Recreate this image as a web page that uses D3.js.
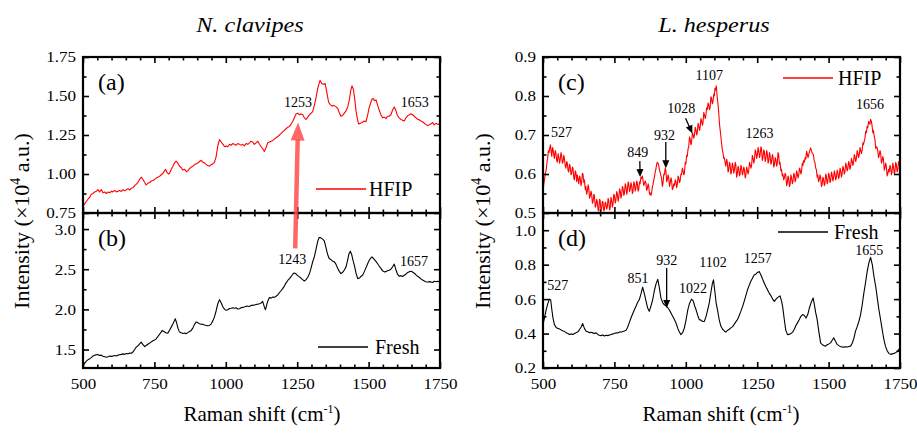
<!DOCTYPE html>
<html>
<head>
<meta charset="utf-8">
<script src="https://cdn.jsdelivr.net/npm/d3@7"></script>
<style>
body { margin: 0; background: #fff; }
</style>
</head>
<body>
<svg id="chart" width="917" height="434"></svg>
<script>
/* data: Raman shift (cm-1) vs intensity (x10^4 a.u.) */
var hfipClavipes = [[500,.79],[506,.81],[512,.825],[518,.84],[523,.85],[529,.87],[535,.875],[541,.885],[547,.89],[552,.9],[558,.885],[564,.9],[570,.88],[576,.885],[582,.875],[588,.885],[594,.88],[600,.89],[605,.885],[611,.895],[617,.885],[622,.89],[628,.895],[634,.888],[640,.9],[646,.892],[652,.9],[658,.905],[664,.898],[670,.91],[675,.912],[681,.925],[687,.935],[692,.945],[698,.965],[704,.98],[710,.965],[716,.945],[721,.93],[727,.94],[733,.945],[739,.955],[745,.958],[751,.965],[757,.975],[763,.98],[768,.985],[774,.995],[780,1.005],[785,1.02],[789,1.03],[794,1.01],[799,1.0],[803,1.005],[809,1.03],[815,1.05],[820,1.07],[826,1.082],[832,1.07],[838,1.05],[844,1.04],[850,1.025],[856,1.03],[862,1.015],[867,1.02],[873,1.035],[879,1.045],[885,1.05],[890,1.06],[896,1.065],[902,1.07],[908,1.08],[914,1.088],[920,1.075],[926,1.07],[932,1.06],[937,1.055],[943,1.05],[949,1.06],[955,1.065],[960,1.075],[966,1.11],[972,1.18],[978,1.22],[984,1.205],[990,1.19],[996,1.175],[1001,1.18],[1007,1.175],[1013,1.19],[1019,1.185],[1024,1.195],[1030,1.19],[1036,1.185],[1042,1.195],[1048,1.19],[1053,1.185],[1059,1.19],[1065,1.18],[1071,1.195],[1077,1.19],[1083,1.2],[1088,1.21],[1094,1.205],[1100,1.19],[1106,1.2],[1112,1.21],[1118,1.19],[1124,1.175],[1130,1.16],[1135,1.145],[1141,1.17],[1147,1.2],[1153,1.205],[1159,1.21],[1165,1.215],[1171,1.225],[1176,1.232],[1182,1.24],[1188,1.25],[1194,1.26],[1199,1.27],[1205,1.28],[1211,1.29],[1217,1.3],[1223,1.305],[1229,1.32],[1235,1.34],[1240,1.36],[1246,1.385],[1252,1.39],[1258,1.38],[1263,1.385],[1269,1.382],[1275,1.36],[1281,1.35],[1287,1.365],[1293,1.38],[1299,1.39],[1304,1.4],[1310,1.44],[1316,1.49],[1322,1.55],[1330,1.6],[1336,1.58],[1342,1.575],[1348,1.58],[1354,1.52],[1360,1.46],[1366,1.445],[1372,1.435],[1378,1.44],[1386,1.43],[1392,1.42],[1398,1.39],[1403,1.37],[1409,1.375],[1415,1.39],[1421,1.405],[1427,1.43],[1433,1.48],[1438,1.54],[1442,1.565],[1447,1.54],[1452,1.47],[1456,1.405],[1461,1.35],[1465,1.32],[1471,1.325],[1477,1.33],[1485,1.34],[1491,1.335],[1497,1.38],[1502,1.425],[1508,1.46],[1512,1.48],[1516,1.483],[1521,1.47],[1526,1.475],[1531,1.445],[1537,1.41],[1543,1.38],[1549,1.36],[1555,1.365],[1561,1.355],[1566,1.37],[1572,1.37],[1578,1.38],[1584,1.41],[1590,1.43],[1595,1.41],[1601,1.375],[1607,1.36],[1613,1.35],[1619,1.345],[1625,1.34],[1631,1.36],[1637,1.375],[1643,1.38],[1648,1.386],[1654,1.38],[1660,1.37],[1666,1.36],[1672,1.35],[1677,1.348],[1683,1.34],[1689,1.335],[1695,1.325],[1700,1.318],[1706,1.31],[1712,1.315],[1718,1.32],[1724,1.33],[1730,1.315],[1736,1.325],[1742,1.318],[1750,1.32]];

var freshClavipes = [[500,1.3],[506,1.33],[512,1.355],[518,1.375],[523,1.383],[529,1.4],[535,1.42],[541,1.43],[547,1.435],[552,1.438],[558,1.425],[564,1.43],[570,1.415],[576,1.41],[582,1.404],[588,1.41],[594,1.42],[600,1.415],[605,1.42],[611,1.425],[617,1.42],[622,1.43],[628,1.435],[634,1.44],[640,1.446],[646,1.44],[652,1.45],[658,1.448],[664,1.455],[669,1.454],[675,1.47],[681,1.5],[686,1.529],[692,1.545],[698,1.57],[704,1.592],[710,1.56],[716,1.537],[721,1.55],[727,1.565],[733,1.579],[739,1.595],[745,1.61],[751,1.62],[756,1.633],[762,1.66],[768,1.69],[774,1.72],[777,1.738],[783,1.725],[790,1.71],[797,1.704],[803,1.74],[809,1.779],[815,1.82],[820,1.86],[823,1.883],[828,1.83],[833,1.76],[838,1.717],[844,1.71],[850,1.7],[856,1.705],[861,1.696],[867,1.71],[873,1.725],[879,1.738],[885,1.77],[890,1.81],[896,1.842],[902,1.835],[908,1.82],[914,1.815],[920,1.813],[926,1.805],[932,1.8],[937,1.795],[943,1.8],[949,1.82],[955,1.86],[960,1.904],[966,1.98],[972,2.07],[978,2.121],[984,2.08],[990,2.03],[996,2.0],[1001,1.988],[1007,1.995],[1013,2.01],[1019,2.015],[1024,2.021],[1030,2.015],[1036,2.02],[1042,2.005],[1048,2.008],[1053,2.02],[1059,2.025],[1065,2.03],[1071,2.038],[1077,2.04],[1083,2.035],[1088,2.05],[1094,2.05],[1100,2.055],[1106,2.06],[1112,2.065],[1118,2.071],[1124,2.08],[1129,2.1],[1135,2.03],[1139,1.996],[1145,2.08],[1150,2.13],[1153,2.146],[1159,2.14],[1165,2.155],[1171,2.15],[1176,2.163],[1182,2.18],[1188,2.21],[1194,2.235],[1199,2.258],[1205,2.29],[1211,2.33],[1217,2.36],[1223,2.383],[1229,2.41],[1235,2.44],[1240,2.454],[1246,2.44],[1252,2.42],[1258,2.404],[1263,2.39],[1269,2.37],[1275,2.354],[1281,2.37],[1287,2.4],[1293,2.446],[1299,2.52],[1304,2.59],[1310,2.654],[1316,2.75],[1322,2.85],[1327,2.896],[1333,2.89],[1339,2.875],[1345,2.854],[1350,2.78],[1356,2.69],[1362,2.633],[1368,2.62],[1374,2.6],[1380,2.592],[1386,2.56],[1392,2.51],[1398,2.47],[1403,2.446],[1409,2.46],[1415,2.49],[1421,2.529],[1427,2.62],[1431,2.69],[1436,2.725],[1441,2.68],[1446,2.6],[1450,2.55],[1456,2.45],[1462,2.383],[1468,2.39],[1473,2.41],[1479,2.425],[1485,2.47],[1491,2.52],[1497,2.571],[1502,2.61],[1508,2.64],[1512,2.654],[1518,2.63],[1525,2.6],[1531,2.571],[1537,2.54],[1543,2.51],[1549,2.48],[1555,2.467],[1561,2.47],[1566,2.48],[1572,2.488],[1578,2.5],[1584,2.53],[1590,2.563],[1595,2.5],[1601,2.44],[1607,2.413],[1613,2.42],[1619,2.41],[1625,2.425],[1631,2.44],[1637,2.46],[1643,2.47],[1648,2.475],[1654,2.465],[1660,2.45],[1666,2.43],[1671,2.413],[1677,2.4],[1683,2.38],[1689,2.365],[1695,2.354],[1700,2.345],[1706,2.34],[1712,2.345],[1718,2.342],[1724,2.335],[1730,2.35],[1736,2.345],[1742,2.35],[1750,2.345]];

var hfipHesperus = [[500,.555],[503,.575],[505,.585],[508,.6],[511,.61],[514,.63],[516,.64],[519,.66],[521,.655],[524,.668],[526,.675],[529,.655],[531,.645],[533,.668],[535,.665],[538,.648],[540,.64],[543,.66],[545,.655],[548,.635],[550,.63],[553,.652],[555,.645],[558,.628],[560,.635],[563,.655],[565,.65],[568,.628],[570,.63],[573,.648],[575,.64],[578,.62],[580,.615],[583,.632],[585,.628],[588,.608],[590,.605],[593,.625],[595,.62],[598,.598],[600,.6],[603,.618],[605,.615],[608,.59],[610,.585],[613,.608],[615,.605],[618,.58],[620,.598],[623,.585],[625,.575],[628,.595],[630,.59],[633,.57],[635,.578],[638,.602],[640,.6],[643,.578],[645,.585],[648,.56],[650,.568],[653,.548],[655,.555],[658,.572],[660,.565],[663,.538],[665,.542],[668,.556],[670,.55],[673,.525],[675,.528],[678,.548],[680,.545],[683,.515],[685,.518],[688,.535],[690,.53],[693,.508],[695,.505],[698,.535],[700,.532],[703,.506],[705,.51],[708,.53],[710,.528],[713,.505],[715,.508],[718,.528],[720,.525],[723,.51],[725,.515],[728,.538],[730,.532],[733,.508],[735,.512],[738,.54],[740,.535],[743,.515],[745,.522],[748,.548],[750,.545],[753,.525],[755,.532],[758,.555],[760,.55],[763,.53],[765,.538],[768,.562],[770,.558],[773,.538],[775,.545],[778,.568],[780,.565],[783,.545],[785,.55],[788,.575],[790,.57],[793,.548],[795,.555],[798,.58],[800,.575],[803,.555],[805,.56],[808,.578],[810,.572],[813,.55],[815,.555],[818,.58],[820,.576],[823,.556],[825,.562],[828,.582],[830,.578],[833,.556],[835,.56],[838,.58],[840,.575],[843,.592],[845,.588],[848,.595],[850,.585],[853,.57],[855,.575],[858,.582],[860,.578],[863,.558],[865,.562],[868,.575],[870,.57],[873,.548],[875,.552],[878,.545],[880,.55],[883,.568],[885,.572],[888,.585],[890,.592],[893,.605],[895,.612],[898,.625],[900,.63],[903,.628],[905,.622],[908,.61],[910,.605],[913,.595],[915,.59],[918,.568],[920,.575],[923,.6],[925,.598],[928,.615],[930,.61],[933,.58],[935,.585],[938,.598],[940,.592],[943,.568],[945,.575],[948,.59],[950,.585],[953,.56],[955,.563],[958,.575],[960,.57],[963,.585],[965,.582],[968,.565],[970,.572],[973,.595],[975,.592],[978,.578],[980,.582],[983,.6],[985,.598],[988,.615],[990,.61],[993,.598],[995,.602],[998,.63],[1000,.625],[1003,.648],[1005,.645],[1008,.665],[1010,.668],[1013,.695],[1015,.69],[1018,.675],[1020,.68],[1023,.705],[1025,.702],[1028,.692],[1030,.698],[1033,.72],[1035,.715],[1038,.7],[1040,.705],[1043,.73],[1045,.725],[1048,.712],[1050,.718],[1053,.742],[1055,.738],[1058,.725],[1060,.73],[1063,.758],[1065,.752],[1068,.742],[1070,.748],[1073,.77],[1075,.765],[1078,.782],[1080,.778],[1083,.765],[1085,.77],[1088,.798],[1090,.795],[1093,.78],[1095,.785],[1098,.805],[1100,.8],[1102,.82],[1104,.815],[1107,.826],[1109,.805],[1111,.79],[1114,.77],[1116,.75],[1118,.728],[1120,.715],[1123,.695],[1125,.68],[1128,.662],[1130,.655],[1133,.64],[1135,.642],[1138,.628],[1140,.62],[1143,.638],[1145,.632],[1148,.605],[1150,.61],[1153,.63],[1155,.625],[1158,.6],[1160,.605],[1163,.628],[1165,.622],[1168,.602],[1170,.61],[1173,.63],[1175,.625],[1178,.592],[1180,.598],[1183,.62],[1185,.615],[1188,.595],[1190,.6],[1193,.622],[1195,.618],[1198,.598],[1200,.602],[1203,.618],[1205,.612],[1208,.59],[1210,.595],[1213,.618],[1215,.612],[1218,.6],[1220,.605],[1223,.63],[1225,.625],[1228,.615],[1230,.62],[1233,.648],[1235,.642],[1238,.628],[1240,.635],[1243,.662],[1245,.658],[1248,.64],[1250,.645],[1253,.668],[1255,.662],[1258,.642],[1260,.648],[1263,.67],[1265,.665],[1268,.635],[1270,.64],[1273,.662],[1275,.658],[1278,.632],[1280,.638],[1283,.66],[1285,.655],[1288,.628],[1290,.632],[1293,.655],[1295,.648],[1298,.625],[1300,.63],[1303,.65],[1305,.645],[1308,.618],[1310,.622],[1313,.642],[1315,.638],[1318,.62],[1320,.625],[1323,.655],[1325,.65],[1328,.625],[1330,.63],[1333,.608],[1335,.612],[1338,.595],[1340,.6],[1343,.585],[1345,.59],[1348,.602],[1350,.598],[1353,.57],[1355,.575],[1358,.595],[1360,.59],[1363,.568],[1365,.572],[1368,.598],[1370,.592],[1373,.575],[1375,.58],[1378,.602],[1380,.598],[1383,.58],[1385,.585],[1388,.608],[1390,.602],[1393,.59],[1395,.595],[1398,.615],[1400,.612],[1403,.6],[1405,.605],[1408,.628],[1410,.622],[1413,.635],[1415,.63],[1418,.642],[1420,.638],[1423,.658],[1425,.652],[1428,.642],[1430,.648],[1434,.66],[1437,.667],[1440,.66],[1442,.655],[1445,.652],[1447,.648],[1450,.632],[1452,.63],[1455,.615],[1457,.612],[1460,.592],[1462,.598],[1465,.58],[1467,.585],[1470,.598],[1472,.592],[1475,.568],[1477,.572],[1480,.592],[1482,.588],[1485,.57],[1487,.575],[1490,.6],[1492,.595],[1495,.575],[1497,.58],[1500,.602],[1502,.598],[1505,.578],[1507,.582],[1510,.605],[1512,.6],[1515,.582],[1517,.588],[1520,.608],[1522,.602],[1525,.585],[1527,.59],[1530,.61],[1532,.605],[1535,.588],[1537,.592],[1540,.615],[1542,.61],[1545,.592],[1547,.598],[1550,.62],[1552,.615],[1555,.6],[1557,.605],[1560,.628],[1562,.622],[1565,.608],[1567,.612],[1570,.632],[1572,.628],[1575,.612],[1577,.618],[1580,.64],[1582,.635],[1585,.622],[1587,.628],[1590,.65],[1592,.645],[1595,.632],[1597,.638],[1600,.66],[1602,.655],[1605,.642],[1607,.648],[1610,.668],[1612,.662],[1615,.652],[1617,.658],[1620,.68],[1622,.675],[1625,.685],[1627,.69],[1630,.71],[1632,.705],[1635,.722],[1637,.718],[1640,.735],[1642,.73],[1645,.728],[1647,.74],[1650,.735],[1652,.725],[1655,.705],[1657,.712],[1660,.695],[1662,.69],[1665,.665],[1667,.67],[1670,.668],[1672,.66],[1675,.642],[1677,.648],[1680,.66],[1682,.655],[1685,.628],[1687,.632],[1690,.645],[1692,.638],[1695,.61],[1697,.615],[1700,.628],[1702,.62],[1705,.595],[1707,.6],[1710,.612],[1712,.605],[1715,.622],[1717,.618],[1720,.598],[1722,.605],[1725,.628],[1727,.62],[1730,.6],[1732,.605],[1735,.63],[1737,.625],[1740,.605],[1742,.61],[1745,.632],[1747,.628],[1750,.615]];

var freshHesperus = [[500,.452],[505,.49],[511,.538],[517,.575],[523,.6],[527,.595],[531,.538],[535,.49],[540,.452],[546,.435],[552,.43],[558,.427],[564,.42],[570,.415],[575,.413],[581,.405],[587,.4],[593,.394],[599,.398],[605,.395],[610,.4],[616,.405],[622,.41],[628,.423],[634,.44],[639,.458],[645,.43],[651,.413],[657,.41],[663,.405],[668,.408],[674,.404],[680,.4],[686,.404],[692,.395],[697,.39],[703,.388],[709,.392],[715,.386],[721,.39],[727,.388],[733,.392],[739,.395],[745,.398],[750,.4],[756,.405],[762,.403],[768,.41],[773,.408],[779,.412],[785,.415],[791,.419],[796,.435],[802,.462],[808,.49],[814,.515],[820,.538],[826,.56],[831,.58],[837,.596],[843,.63],[849,.669],[855,.63],[861,.587],[866,.55],[872,.529],[878,.56],[884,.596],[890,.65],[896,.69],[902,.715],[907,.67],[913,.606],[919,.58],[925,.567],[931,.56],[937,.55],[942,.538],[948,.52],[954,.5],[960,.481],[966,.46],[972,.43],[977,.41],[983,.394],[989,.405],[995,.433],[1001,.48],[1007,.538],[1013,.575],[1020,.6],[1026,.59],[1031,.56],[1036,.538],[1042,.505],[1047,.481],[1053,.478],[1059,.47],[1065,.471],[1071,.5],[1077,.54],[1082,.577],[1088,.64],[1093,.69],[1097,.712],[1102,.64],[1106,.58],[1111,.538],[1117,.48],[1123,.442],[1129,.425],[1135,.415],[1140,.408],[1146,.418],[1152,.425],[1158,.433],[1164,.44],[1170,.455],[1175,.468],[1181,.481],[1187,.505],[1193,.53],[1199,.558],[1205,.59],[1211,.625],[1216,.654],[1222,.68],[1228,.705],[1233,.72],[1239,.74],[1245,.745],[1251,.755],[1257,.76],[1263,.74],[1269,.715],[1275,.692],[1281,.67],[1286,.655],[1292,.635],[1298,.62],[1304,.6],[1310,.587],[1316,.6],[1322,.61],[1330,.619],[1335,.59],[1339,.558],[1345,.48],[1350,.42],[1356,.394],[1362,.395],[1368,.4],[1374,.408],[1380,.425],[1385,.445],[1391,.462],[1397,.48],[1403,.5],[1409,.51],[1415,.505],[1421,.49],[1427,.51],[1433,.55],[1440,.585],[1446,.606],[1450,.57],[1455,.52],[1460,.481],[1466,.41],[1472,.346],[1478,.335],[1484,.33],[1489,.327],[1495,.335],[1501,.34],[1507,.346],[1512,.36],[1518,.375],[1524,.355],[1530,.337],[1536,.33],[1541,.325],[1547,.322],[1553,.321],[1559,.323],[1565,.322],[1571,.325],[1577,.327],[1583,.345],[1589,.375],[1594,.413],[1600,.44],[1606,.47],[1612,.51],[1618,.57],[1623,.63],[1629,.692],[1635,.76],[1641,.81],[1647,.842],[1653,.8],[1659,.73],[1665,.673],[1671,.6],[1676,.54],[1682,.481],[1688,.42],[1693,.37],[1699,.327],[1705,.3],[1711,.285],[1717,.279],[1723,.282],[1729,.285],[1734,.288],[1740,.295],[1746,.308],[1750,.31]];

/* ticks */
var xMajor = [500, 750, 1000, 1250, 1500, 1750];
var yMajorA = [0.75, 1.0, 1.25, 1.5, 1.75], yMinorA = [0.875, 1.125, 1.375, 1.625];
var yMajorB = [1.5, 2.0, 2.5, 3.0], yMinorB = [1.75, 2.25, 2.75];
var yMajorC = [0.5, 0.6, 0.7, 0.8, 0.9], yMinorC = [0.55, 0.65, 0.75, 0.85];
var yMajorD = [0.2, 0.4, 0.6, 0.8, 1.0], yMinorD = [0.3, 0.5, 0.7, 0.9];

/* peak labels: text, shift, intensity */
var peaksA = [["1253", 1253, 1.43], ["1653", 1662, 1.43]];
var peaksB = [["1243", 1233, 2.56], ["1657", 1659, 2.54]];
var peaksC = [["527", 565, 0.696], ["849", 832, 0.644], ["932", 925, 0.687], ["1028", 984, 0.756], ["1107", 1082, 0.841], ["1263", 1258, 0.692], ["1656", 1645, 0.767]];
var peaksD = [["527", 552, 0.653], ["851", 833, 0.692], ["932", 933, 0.798], ["1022", 1025, 0.634], ["1102", 1095, 0.788], ["1257", 1252, 0.811], ["1655", 1642, 0.858]];
var arrowsC = [[[839, 0.633], [840, 0.592]], [[930, 0.682], [930, 0.615]], [[999, 0.743], [1023, 0.704]]];
var arrowsD = [[[933, 0.781], [933, 0.548]]];

var FONT = '"Liberation Serif", "Times New Roman", "DejaVu Serif"';
var svg = d3.select("#chart");
var xMinor = d3.range(550, 1750, 50).filter(v => xMajor.indexOf(v) < 0);

var panels = [
  { id: "a", x0: 83, x1: 440, y0: 57, y1: 213, dom: [0.75, 1.75], major: yMajorA, minor: yMinorA, fmt: d3.format(".2f"),
    data: hfipClavipes, color: "#ff0000", tag: "(a)", legend: "HFIP", leg: [316, 189, 369], peaks: peaksA, arrows: [], bottom: false },
  { id: "b", x0: 83, x1: 440, y0: 213, y1: 368, dom: [1.27, 3.2], major: yMajorB, minor: yMinorB, fmt: d3.format(".1f"),
    data: freshClavipes, color: "#000", tag: "(b)", legend: "Fresh", leg: [318, 347, 375], peaks: peaksB, arrows: [], bottom: true },
  { id: "c", x0: 543, x1: 900, y0: 57, y1: 213, dom: [0.5, 0.9], major: yMajorC, minor: yMinorC, fmt: d3.format(".1f"),
    data: hfipHesperus, color: "#ff0000", tag: "(c)", legend: "HFIP", leg: [783, 78, 838], peaks: peaksC, arrows: arrowsC, bottom: false },
  { id: "d", x0: 543, x1: 900, y0: 213, y1: 368, dom: [0.2, 1.1], major: yMajorD, minor: yMinorD, fmt: d3.format(".1f"),
    data: freshHesperus, color: "#000", tag: "(d)", legend: "Fresh", leg: [778, 232, 834], peaks: peaksD, arrows: arrowsD, bottom: true }
];

var defs = svg.append("defs");
var scales = {};

function txt(sel, size){
  return sel.style("font-family", FONT).style("font-size", size + "px").attr("fill", "#000");
}

// stretch text horizontally a little, as in the original figure
function widen(sel, k){
  sel.each(function(){
    var w = this.getComputedTextLength();
    if (w > 0) d3.select(this).attr("textLength", w * k).attr("lengthAdjust", "spacingAndGlyphs");
  });
}

function axisG(axis, tx, ty){
  var g = svg.append("g").attr("transform", `translate(${tx},${ty})`).call(axis);
  g.select(".domain").remove();
  g.attr("font-family", null).attr("font-size", null);
  g.selectAll("line").attr("stroke", "#000").attr("stroke-width", 1.6);
  txt(g.selectAll("text"), 15.5);
  widen(g.selectAll("text"), 1.1);
  return g;
}

function drawArrow(x1, y1, x2, y2, w, head, hw, color){
  var dx = x2 - x1, dy = y2 - y1, L = Math.hypot(dx, dy);
  var ux = dx / L, uy = dy / L;
  var bx = x2 - ux * head, by = y2 - uy * head;
  svg.append("line").attr("x1", x1).attr("y1", y1).attr("x2", bx + ux).attr("y2", by + uy)
     .attr("stroke", color).attr("stroke-width", w);
  svg.append("path")
     .attr("d", `M${x2},${y2}L${bx - uy * hw / 2},${by + ux * hw / 2}L${bx + uy * hw / 2},${by - ux * hw / 2}Z`)
     .attr("fill", color);
}

panels.forEach(function(p){
  var x = d3.scaleLinear().domain([500, 1750]).range([p.x0, p.x1]);
  var y = d3.scaleLinear().domain(p.dom).range([p.y1, p.y0]);
  scales[p.id] = { x: x, y: y };

  defs.append("clipPath").attr("id", "clip-" + p.id).append("rect")
      .attr("x", p.x0).attr("y", p.y0).attr("width", p.x1 - p.x0).attr("height", p.y1 - p.y0);

  svg.append("path").datum(p.data)
     .attr("clip-path", `url(#clip-${p.id})`)
     .attr("fill", "none").attr("stroke", p.color).attr("stroke-width", 1.1)
     .attr("stroke-linejoin", "round")
     .attr("d", d3.line().x(d => x(d[0])).y(d => y(d[1])));

  var none = () => "";
  // y axes, ticks inward
  axisG(d3.axisLeft(y).tickValues(p.major).tickSize(-6).tickPadding(7).tickFormat(p.fmt), p.x0, 0);
  axisG(d3.axisLeft(y).tickValues(p.minor).tickSize(-3.5).tickFormat(none), p.x0, 0);
  axisG(d3.axisRight(y).tickValues(p.major).tickSize(-6).tickFormat(none), p.x1, 0);
  axisG(d3.axisRight(y).tickValues(p.minor).tickSize(-3.5).tickFormat(none), p.x1, 0);
  // x axes
  axisG(d3.axisTop(x).tickValues(xMajor).tickSize(-6).tickFormat(none), 0, p.y0);
  axisG(d3.axisTop(x).tickValues(xMinor).tickSize(-3.5).tickFormat(none), 0, p.y0);
  axisG(d3.axisBottom(x).tickValues(xMajor).tickSize(-6).tickPadding(10)
        .tickFormat(p.bottom ? d3.format("d") : none), 0, p.y1);
  axisG(d3.axisBottom(x).tickValues(xMinor).tickSize(-3.5).tickFormat(none), 0, p.y1);

  svg.append("rect").attr("x", p.x0).attr("y", p.y0)
     .attr("width", p.x1 - p.x0).attr("height", p.y1 - p.y0)
     .attr("fill", "none").attr("stroke", "#000").attr("stroke-width", 2.2);

  // panel tag
  txt(svg.append("text").attr("x", p.x0 + 15).attr("y", p.y0 + 33), 24).text(p.tag);

  // legend
  svg.append("line").attr("x1", p.leg[0]).attr("x2", p.leg[0] + 50)
     .attr("y1", p.leg[1]).attr("y2", p.leg[1])
     .attr("stroke", p.color).attr("stroke-width", 1.6);
  txt(svg.append("text").attr("x", p.leg[2]).attr("y", p.leg[1] + 7), 20).text(p.legend);

  // peak labels
  txt(svg.selectAll(null).data(p.peaks).join("text")
     .attr("x", d => x(d[1])).attr("y", d => y(d[2]))
     .attr("text-anchor", "middle"), 14)
     .text(d => d[0]);

  p.arrows.forEach(function(a){
    drawArrow(x(a[0][0]), y(a[0][1]), x(a[1][0]), y(a[1][1]), 1.3, 8, 7, "#000");
  });
});

// red arrow linking 1243 (b) to 1253 (a)
var sa = scales.a, sb = scales.b;
drawArrow(sb.x(1243), sb.y(2.76), sa.x(1253), sa.y(1.33), 4.5, 18, 14, "rgba(255,70,70,0.82)");

// titles
var t1 = txt(svg.append("text").attr("x", 250).attr("y", 32).attr("text-anchor", "middle"), 22)
   .style("font-style", "italic").text("N. clavipes");
var t2 = txt(svg.append("text").attr("x", 714).attr("y", 32).attr("text-anchor", "middle"), 22)
   .style("font-style", "italic").text("L. hesperus");
widen(t1, 1.1);
widen(t2, 1.1);

// axis titles
[[262, 29], [721, 490]].forEach(function(c){
  var t = txt(svg.append("text").attr("x", c[0]).attr("y", 421).attr("text-anchor", "middle"), 21);
  t.append("tspan").text("Raman shift (cm");
  t.append("tspan").attr("dy", -8).style("font-size", "12px").text("-1");
  t.append("tspan").attr("dy", 8).text(")");

  var yl = txt(svg.append("text").attr("transform", `translate(${c[1]},221) rotate(-90)`)
     .attr("text-anchor", "middle"), 22);
  yl.append("tspan").text("Intensity (\u00d710");
  yl.append("tspan").attr("dy", -9).style("font-size", "14px").text("4");
  yl.append("tspan").attr("dy", 9).text(" a.u.)");
});
</script>
</body>
</html>
